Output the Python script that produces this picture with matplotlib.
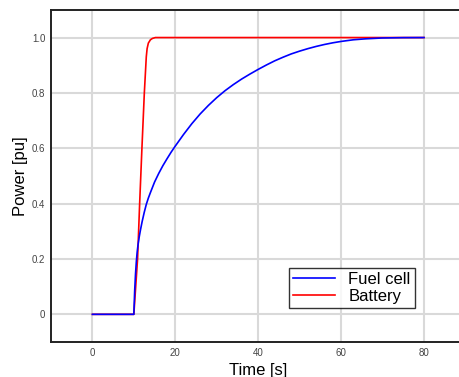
import numpy as np
import matplotlib
matplotlib.use('Agg')
import matplotlib.pyplot as plt

plt.rcParams['font.family'] = ['Liberation Sans', 'DejaVu Sans']

# Fuel cell response
fc_t = [0, 10, 10.2, 10.4, 10.6, 10.8, 11, 11.3, 11.6, 12, 12.5, 13, 13.5, 14, 15, 16, 17,
        18, 19, 20, 22, 24, 26, 28, 30, 32, 34, 36, 38, 40, 42, 44, 46, 48, 50, 52, 54,
        56, 58, 60, 63, 66, 70, 75, 80]
fc_p = [0, 0, 0.085, 0.145, 0.19, 0.225, 0.25, 0.28, 0.305, 0.335, 0.368, 0.397, 0.42,
        0.44, 0.478, 0.509, 0.537, 0.562, 0.586, 0.608, 0.65, 0.689, 0.724, 0.755, 0.783,
        0.808, 0.83, 0.85, 0.868, 0.885, 0.901, 0.916, 0.929, 0.941, 0.951, 0.96, 0.968,
        0.975, 0.981, 0.986, 0.992, 0.9955, 0.9985, 0.9997, 1.0]

# Battery response
bat_t = [0, 10, 10.9, 11.4, 11.95, 12.53, 13.0, 13.2, 13.5, 14, 14.5, 15.2, 80]
bat_p = [0, 0, 0.2, 0.4, 0.6, 0.8, 0.93, 0.96, 0.98, 0.992, 0.997, 1.0, 1.0]

fig = plt.figure(figsize=(4.59, 3.77), dpi=100)
ax = fig.add_axes([0.111, 0.0928, 0.903, 0.881])

l_bat, = ax.plot(bat_t, bat_p, color='red', lw=1.2, zorder=3)
l_fc, = ax.plot(fc_t, fc_p, color='blue', lw=1.2, zorder=4)

ax.set_xlim(-10, 90)
ax.set_ylim(-0.1, 1.1)
ax.set_xticks([0, 20, 40, 60, 80])
ax.set_yticks([0, 0.2, 0.4, 0.6, 0.8, 1.0])
ax.set_yticklabels(['0', '0.2', '0.4', '0.6', '0.8', '1.0'])
ax.tick_params(length=0, labelsize=7, colors='#444444', pad=4)
ax.grid(True, color='#d9d9d9', lw=1.5)
ax.set_axisbelow(True)
for s in ax.spines.values():
    s.set_color('#222222')
    s.set_linewidth(1.4)

ax.set_xlabel('Time [s]', fontsize=12, labelpad=4)
ax.set_ylabel('Power [pu]', fontsize=12, labelpad=3)

leg = ax.legend([l_fc, l_bat], ['Fuel cell', 'Battery'], loc='lower right',
                bbox_to_anchor=(0.878, 0.102), borderaxespad=0, fontsize=12,
                frameon=True, fancybox=False, edgecolor='black', handlelength=2.5,
                borderpad=0.25, labelspacing=0.1)
leg.get_frame().set_linewidth(1.0)

fig.savefig('out.png', dpi=100)
